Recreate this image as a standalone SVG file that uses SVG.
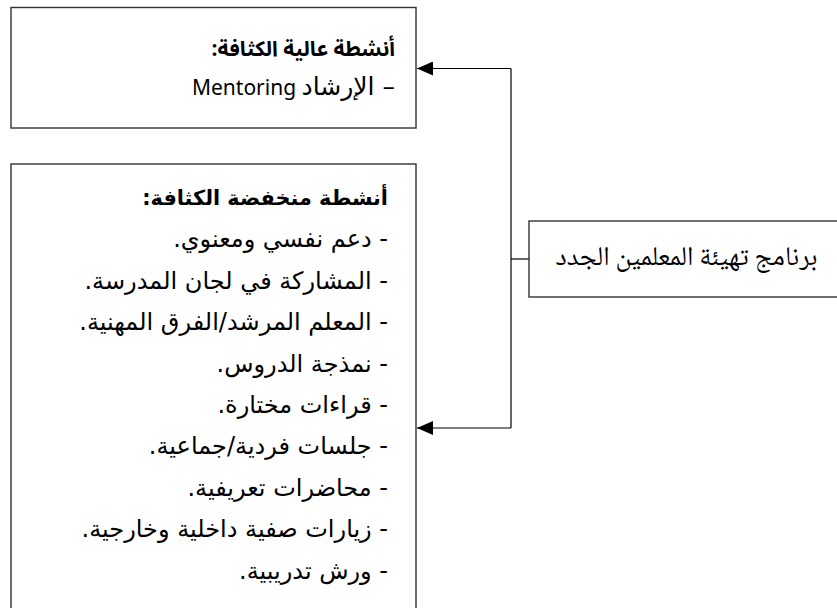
<svg xmlns="http://www.w3.org/2000/svg" width="837" height="608" viewBox="0 0 837 608">
<style>
.box{fill:#fff;stroke:#333;stroke-width:1.4}
.conn{fill:none;stroke:#000;stroke-width:1.2}
.t{font-family:"DejaVu Sans",sans-serif;font-size:24px;fill:#000;direction:rtl;text-anchor:start}
.h{font-family:"Noto Sans Arabic","DejaVu Sans",sans-serif;font-size:21px;font-weight:bold;fill:#000;direction:rtl;text-anchor:start}
.hb{font-family:"DejaVu Sans",sans-serif;font-size:20.8px;font-weight:bold;fill:#000;direction:rtl;text-anchor:start}
.m{font-family:"Noto Sans","DejaVu Sans",sans-serif;font-size:21px;fill:#000;direction:rtl;text-anchor:start}
.ar{font-family:"DejaVu Sans",sans-serif;font-size:25px}
.n{font-family:"Noto Naskh Arabic","Amiri","Scheherazade New","Noto Sans Arabic","DejaVu Sans",serif;font-size:27px;fill:#000;direction:rtl;text-anchor:middle}
</style>
<defs>
<marker id="arr" markerWidth="16" markerHeight="14" refX="16" refY="7" orient="auto" markerUnits="userSpaceOnUse">
<path d="M0,0 L16,7 L0,14 Z" fill="#000"/>
</marker>
</defs>
<rect width="837" height="608" fill="#fff"/>
<g id="connectors">
<line class="conn" x1="529" y1="259" x2="511" y2="259"/>
<line class="conn" x1="511" y1="68.5" x2="511" y2="428"/>
<line class="conn" x1="511" y1="68.5" x2="417" y2="68.5" marker-end="url(#arr)"/>
<line class="conn" x1="511" y1="428" x2="417" y2="428" marker-end="url(#arr)"/>
</g>
<g id="high">
<rect class="box" x="11" y="7.5" width="405" height="120.5"/>
<text class="h" x="395" y="56">أنشطة عالية الكثافة:</text>
<text class="m" x="395" y="95"><tspan class="ar">– الإرشاد</tspan> Mentoring</text>
</g>
<g id="low">
<rect class="box" x="11" y="164" width="405" height="460"/>
<text class="hb" x="388" y="205">أنشطة منخفضة الكثافة:</text>
<text class="t" x="388" y="247.3">- دعم نفسي ومعنوي.</text>
<text class="t" x="388" y="288.7">- المشاركة في لجان المدرسة.</text>
<text class="t" x="388" y="330.1">- المعلم المرشد/الفرق المهنية.</text>
<text class="t" x="388" y="371.5">- نمذجة الدروس.</text>
<text class="t" x="388" y="412.9">- قراءات مختارة.</text>
<text class="t" x="388" y="454.3">- جلسات فردية/جماعية.</text>
<text class="t" x="388" y="495.7">- محاضرات تعريفية.</text>
<text class="t" x="388" y="537.1">- زيارات صفية داخلية وخارجية.</text>
<text class="t" x="388" y="578.5">- ورش تدريبية.</text>
</g>
<g id="program">
<rect class="box" x="529" y="221" width="320" height="76"/>
<text class="n" x="686.5" y="265">برنامج تهيئة المعلمين الجدد</text>
</g>
</svg>
